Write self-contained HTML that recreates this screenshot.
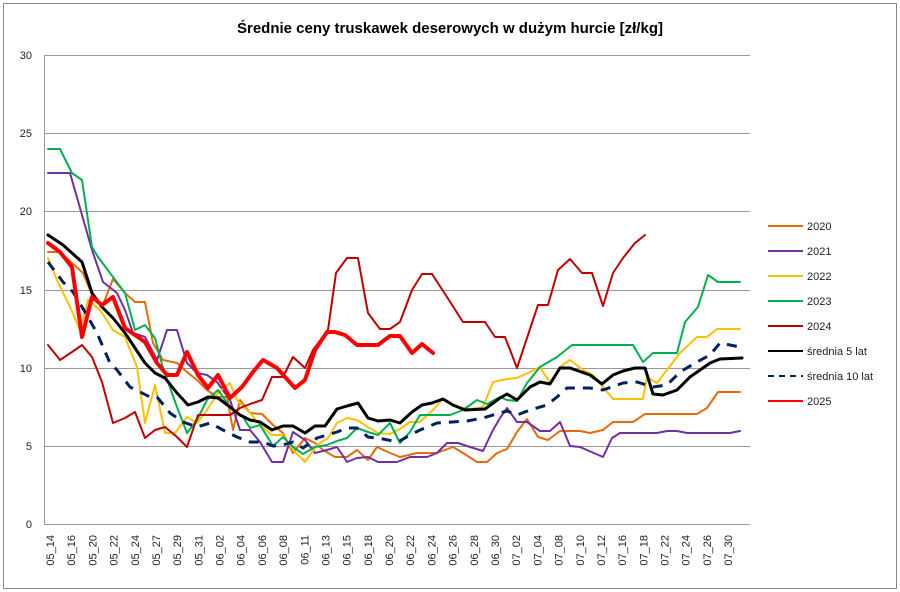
<!DOCTYPE html>
<html><head><meta charset="utf-8"><style>
body{margin:0;background:#fff;}
svg{display:block;font-family:"Liberation Sans",sans-serif;}
</style></head><body>
<svg width="900" height="592" viewBox="0 0 900 592">
<rect x="3.5" y="3.5" width="893" height="585" fill="#fff" stroke="#888" stroke-width="1"/>
<text x="450" y="33" text-anchor="middle" font-size="15" font-weight="bold">Średnie ceny truskawek deserowych w dużym hurcie [zł/kg]</text>
<g stroke="#999" stroke-width="1">
<line x1="44" y1="55.5" x2="750" y2="55.5"/>
<line x1="44" y1="133.5" x2="750" y2="133.5"/>
<line x1="44" y1="211.5" x2="750" y2="211.5"/>
<line x1="44" y1="290.5" x2="750" y2="290.5"/>
<line x1="44" y1="368.5" x2="750" y2="368.5"/>
<line x1="44" y1="446.5" x2="750" y2="446.5"/>
<line x1="44" y1="524.5" x2="750" y2="524.5"/>
<line x1="44.5" y1="55" x2="44.5" y2="525"/>
</g>
<g font-size="11" text-anchor="end" fill="#222">
<text x="32" y="59">30</text><text x="32" y="137">25</text><text x="32" y="215">20</text>
<text x="32" y="294">15</text><text x="32" y="372">10</text><text x="32" y="450">5</text><text x="32" y="528">0</text>
</g>
<g font-size="11" fill="#222" text-anchor="end">
<text transform="translate(54.0,535) rotate(-90)">05_14</text>
<text transform="translate(75.2,535) rotate(-90)">05_16</text>
<text transform="translate(96.4,535) rotate(-90)">05_20</text>
<text transform="translate(117.6,535) rotate(-90)">05_22</text>
<text transform="translate(138.8,535) rotate(-90)">05_24</text>
<text transform="translate(159.9,535) rotate(-90)">05_27</text>
<text transform="translate(181.1,535) rotate(-90)">05_29</text>
<text transform="translate(202.3,535) rotate(-90)">05_31</text>
<text transform="translate(223.5,535) rotate(-90)">06_02</text>
<text transform="translate(244.7,535) rotate(-90)">06_04</text>
<text transform="translate(265.9,535) rotate(-90)">06_06</text>
<text transform="translate(287.1,535) rotate(-90)">06_08</text>
<text transform="translate(308.3,535) rotate(-90)">06_11</text>
<text transform="translate(329.5,535) rotate(-90)">06_13</text>
<text transform="translate(350.7,535) rotate(-90)">06_15</text>
<text transform="translate(371.9,535) rotate(-90)">06_18</text>
<text transform="translate(393.0,535) rotate(-90)">06_20</text>
<text transform="translate(414.2,535) rotate(-90)">06_22</text>
<text transform="translate(435.4,535) rotate(-90)">06_24</text>
<text transform="translate(456.6,535) rotate(-90)">06_26</text>
<text transform="translate(477.8,535) rotate(-90)">06_28</text>
<text transform="translate(499.0,535) rotate(-90)">06_30</text>
<text transform="translate(520.2,535) rotate(-90)">07_02</text>
<text transform="translate(541.4,535) rotate(-90)">07_04</text>
<text transform="translate(562.6,535) rotate(-90)">07_08</text>
<text transform="translate(583.8,535) rotate(-90)">07_10</text>
<text transform="translate(605.0,535) rotate(-90)">07_12</text>
<text transform="translate(626.1,535) rotate(-90)">07_16</text>
<text transform="translate(647.3,535) rotate(-90)">07_18</text>
<text transform="translate(668.5,535) rotate(-90)">07_22</text>
<text transform="translate(689.7,535) rotate(-90)">07_24</text>
<text transform="translate(710.9,535) rotate(-90)">07_26</text>
<text transform="translate(732.1,535) rotate(-90)">07_30</text>
</g>
<g fill="none" stroke-linejoin="round" stroke-linecap="round">
<polyline stroke="#E46C0A" stroke-width="2" points="48,252 60,252 72,263 83,273 93,297 102,307 113,279 125,293 135,302 145,302 153,343 163,360 177,363 187,372 197,380 207,390 217,397 227,397 233,430 240,400 250,413 262,414 273,425 283,433 293,453 305,438 315,443 323,450 335,457 347,457 357,450 368,460 377,447 390,453 400,457 417,453 437,453 453,447 463,453 477,462 487,462 497,453 507,449 517,432 527,419 538,437 548,440 560,431 580,431 590,433 603,430 613,422 633,422 645,414 697,414 707,408 718,392 740,392"/>
<polyline stroke="#7030A0" stroke-width="2" points="48,173 70,173 92,250 103,282 117,293 125,310 133,333 145,337 157,360 167,330 177,330 187,363 197,373 207,375 217,382 230,400 240,430 250,430 260,442 272,462 283,462 293,432 305,440 315,453 327,450 337,447 347,462 357,458 368,457 378,462 397,462 410,457 427,457 437,453 447,443 458,443 470,447 483,451 493,430 500,418 507,408 517,422 527,422 540,431 550,431 560,422 570,446 580,447 603,457 612,438 620,433 657,433 667,431 677,431 687,433 730,433 740,431"/>
<polyline stroke="#FFC000" stroke-width="2" points="48,258 57,280 70,307 80,330 88,300 100,310 113,330 125,337 137,367 145,423 155,385 165,433 175,433 187,417 197,423 207,410 218,393 230,383 237,400 250,413 260,425 272,435 283,435 293,450 305,462 317,445 328,438 337,423 347,418 357,420 368,427 378,433 390,434 400,429 410,422 420,422 433,410 443,399 453,406 470,409 483,407 493,382 507,379 517,378 530,372 540,367 550,383 560,367 570,360 583,370 593,375 613,399 643,399 647,377 657,383 667,370 680,353 697,337 707,337 717,329 740,329"/>
<polyline stroke="#00B050" stroke-width="2" points="48,149 60,149 72,173 82,180 92,247 98,257 113,277 125,293 135,330 145,325 155,338 163,368 177,407 187,433 197,420 207,400 218,390 230,407 243,417 250,428 260,425 273,446 283,437 293,447 303,454 315,447 327,445 337,441 347,438 357,428 368,432 378,435 390,423 400,443 410,432 420,415 450,415 463,410 477,400 487,404 500,397 507,400 517,401 527,383 540,367 557,357 572,345 633,345 643,362 653,353 677,353 685,322 698,307 708,275 718,282 740,282"/>
<polyline stroke="#C00000" stroke-width="2" points="48,345 60,360 72,352 82,345 92,357 102,382 113,423 125,418 135,412 145,438 155,430 165,427 177,437 187,447 198,415 230,415 240,408 250,404 262,400 272,377 283,377 293,357 305,368 313,350 328,330 336,273 347,258 358,258 368,313 380,329 390,329 400,322 412,290 422,274 432,274 447,297 463,322 485,322 495,337 505,337 517,368 538,305 548,305 558,270 570,259 582,273 592,273 603,306 613,273 623,258 635,243 645,235"/>
<polyline stroke="#000" stroke-width="3" points="48,235 63,245 82,262 92,293 102,307 113,318 125,333 135,348 145,363 155,373 165,378 177,393 188,405 198,402 208,397 218,398 230,407 240,415 250,420 260,422 272,430 283,426 293,426 305,433 315,426 325,426 337,409 347,406 358,403 368,418 378,421 390,420 400,423 412,412 422,405 432,403 443,399 453,405 465,410 485,409 500,398 507,394 517,400 530,387 540,382 550,384 560,368 570,368 590,375 602,384 613,375 623,371 635,368 645,368 653,394 663,395 677,390 690,377 700,370 710,363 720,359 742,358"/>
<polyline stroke="#002060" stroke-width="3" stroke-dasharray="10,8" stroke-linecap="butt" points="48,262 63,282 73,292 85,312 97,333 110,363 117,370 130,387 150,397 157,397 170,413 183,422 197,427 210,423 223,430 237,437 250,442 263,442 273,446 283,445 293,442 303,448 317,438 337,432 347,428 357,428 368,437 383,439 398,442 410,435 420,430 437,423 467,421 483,418 500,413 507,411 517,415 530,410 547,405 557,397 567,388 590,388 603,390 623,383 637,382 653,387 667,385 680,372 697,362 710,355 720,343 740,347"/>
<polyline stroke="#FF0000" stroke-width="4" points="48,243 60,252 72,267 82,337 92,297 102,305 113,297 125,328 135,335 145,342 157,363 167,375 177,375 187,352 198,375 208,388 218,375 230,398 242,387 253,372 263,360 277,368 295,388 305,380 315,350 327,332 335,332 345,335 357,345 378,345 390,336 400,336 412,353 422,344 433,353"/>
</g>
<g font-size="11" fill="#222">
<line x1="768" y1="226" x2="803" y2="226" stroke="#E46C0A" stroke-width="2"/><text x="807" y="230">2020</text>
<line x1="768" y1="251" x2="803" y2="251" stroke="#7030A0" stroke-width="2"/><text x="807" y="255">2021</text>
<line x1="768" y1="276" x2="803" y2="276" stroke="#FFC000" stroke-width="2"/><text x="807" y="280">2022</text>
<line x1="768" y1="301" x2="803" y2="301" stroke="#00B050" stroke-width="2"/><text x="807" y="305">2023</text>
<line x1="768" y1="326" x2="803" y2="326" stroke="#C00000" stroke-width="2"/><text x="807" y="330">2024</text>
<line x1="768" y1="351" x2="803" y2="351" stroke="#000" stroke-width="2"/><text x="807" y="355">średnia 5 lat</text>
<line x1="768" y1="376" x2="803" y2="376" stroke="#002060" stroke-width="2" stroke-dasharray="6,5"/><text x="807" y="380">średnia 10 lat</text>
<line x1="768" y1="401" x2="803" y2="401" stroke="#FF0000" stroke-width="2"/><text x="807" y="405">2025</text>
</g>
</svg>
</body></html>
